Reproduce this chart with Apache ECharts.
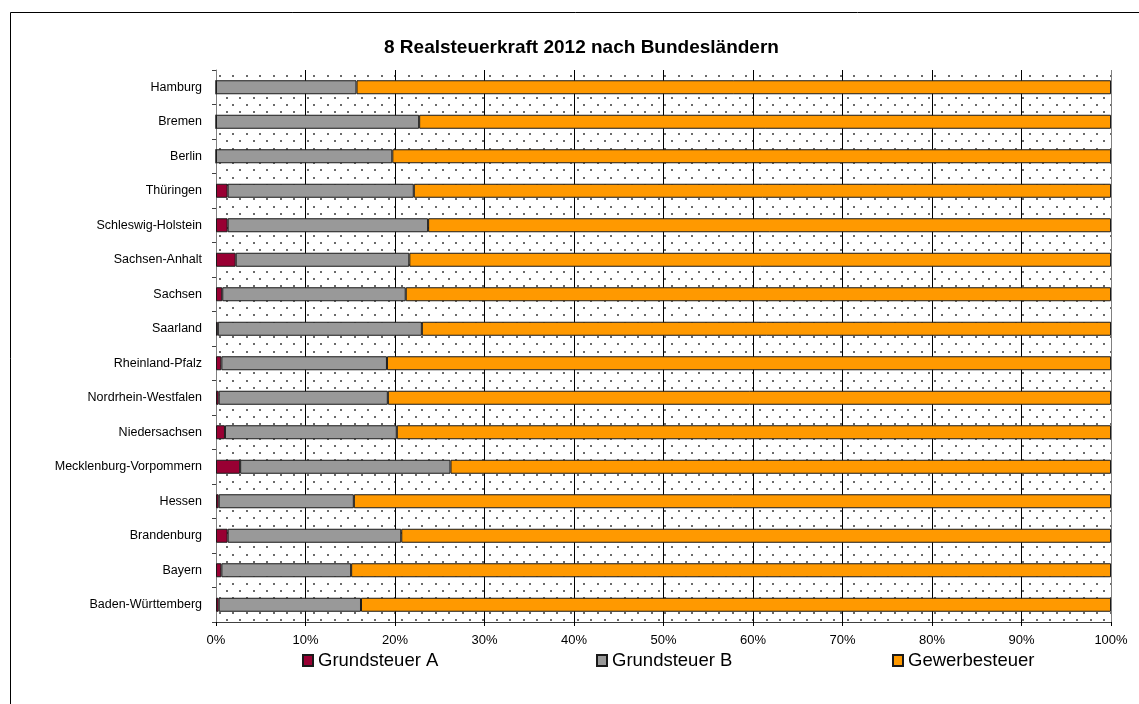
<!DOCTYPE html>
<html>
<head>
<meta charset="utf-8">
<script src="https://cdn.jsdelivr.net/npm/echarts@6/dist/echarts.min.js"></script>
<style>
html,body{margin:0;padding:0;background:#fff;}
#chart{width:1139px;height:704px;}
</style>
</head>
<body>
<div id="chart"></div>
<script>
const categories = ['Hamburg','Bremen','Berlin','Thüringen','Schleswig-Holstein','Sachsen-Anhalt','Sachsen','Saarland','Rheinland-Pfalz','Nordrhein-Westfalen','Niedersachsen','Mecklenburg-Vorpommern','Hessen','Brandenburg','Bayern','Baden-Württemberg'];
const grundsteuerA = [0, 0, 0, 1.3, 1.3, 2.2, 0.7, 0.2, 0.6, 0.3, 1.0, 2.7, 0.3, 1.3, 0.6, 0.3];
const grundsteuerB = [15.7, 22.7, 19.7, 20.8, 22.4, 19.4, 20.5, 22.8, 18.5, 18.9, 19.2, 23.5, 15.1, 19.4, 14.5, 15.9];
const gewerbesteuer = [84.3, 77.3, 80.3, 77.9, 76.3, 78.4, 78.8, 77.0, 80.9, 80.8, 79.8, 73.8, 84.6, 79.3, 84.9, 83.8];
const seriesNames = ['Grundsteuer A', 'Grundsteuer B', 'Gewerbesteuer'];
const titleText = '8 Realsteuerkraft 2012 nach Bundesländern';

const FONT = "'Liberation Sans', Arial, sans-serif";

// dotted background pattern
const tile = document.createElement('canvas');
tile.width = 27; tile.height = 29;
const tctx = tile.getContext('2d');
tctx.fillStyle = '#ffffff';
tctx.fillRect(0, 0, 27, 29);
tctx.fillStyle = '#6a6a6a';
[[3,3],[16,3],[10,10],[23,10],[3,17],[16,17],[10,24],[23,24]].forEach(function(p){ tctx.fillRect(p[0], p[1], 2, 2); });

const chart = echarts.init(document.getElementById('chart'), null, {renderer: 'canvas'});

const barStyle = function(color){ return {color: color, borderColor: '#1a1a1a', borderWidth: 1}; };
const legendText = {fontFamily: FONT, fontSize: 18.5, color: '#000'};

const option = {
  animation: false,
  backgroundColor: '#ffffff',
  title: {
    text: titleText,
    left: 379,
    top: 33,
    textStyle: {fontFamily: FONT, fontSize: 19, fontWeight: 'bold', color: '#000'}
  },
  graphic: [{
    type: 'rect',
    shape: {x: 10.5, y: 12.5, width: 1300, height: 900},
    style: {fill: 'none', stroke: '#000', lineWidth: 1},
    silent: true,
    z: -1
  }],
  legend: [
    {data: [seriesNames[0]], left: 297, top: 646, itemWidth: 10, itemHeight: 11, icon: 'rect', textStyle: legendText},
    {data: [seriesNames[1]], left: 591, top: 646, itemWidth: 10, itemHeight: 11, icon: 'rect', textStyle: legendText},
    {data: [seriesNames[2]], left: 887, top: 646, itemWidth: 10, itemHeight: 11, icon: 'rect', textStyle: legendText}
  ],
  grid: {
    left: 216, right: 28, top: 70, height: 552,
    show: true,
    borderWidth: 0,
    backgroundColor: {image: tile, repeat: 'repeat'}
  },
  xAxis: {
    type: 'value',
    min: 0, max: 100, interval: 10,
    axisLabel: {formatter: '{value}%', fontFamily: FONT, fontSize: 13, color: '#000', margin: 12},
    axisLine: {show: true, lineStyle: {color: '#404040', width: 1}},
    axisTick: {show: true, length: 4, lineStyle: {color: '#000'}},
    splitLine: {show: true, lineStyle: {color: ['#808080','#000','#000','#000','#000','#000','#000','#000','#000','#000','#808080'], width: 1}}
  },
  yAxis: {
    type: 'category',
    data: categories,
    inverse: true,
    axisLabel: {fontFamily: FONT, fontSize: 12.5, color: '#000', margin: 14},
    axisLine: {show: true, lineStyle: {color: '#808080', width: 1}},
    axisTick: {show: true, length: 4, lineStyle: {color: '#404040'}},
    splitLine: {show: false}
  },
  series: [
    {name: seriesNames[0], type: 'bar', stack: 'total', barWidth: 14, data: grundsteuerA, itemStyle: barStyle('#990033')},
    {name: seriesNames[1], type: 'bar', stack: 'total', barWidth: 14, data: grundsteuerB, itemStyle: barStyle('#999999')},
    {name: seriesNames[2], type: 'bar', stack: 'total', barWidth: 14, data: gewerbesteuer, itemStyle: barStyle('#ff9900')}
  ]
};
chart.setOption(option);
</script>
</body>
</html>
